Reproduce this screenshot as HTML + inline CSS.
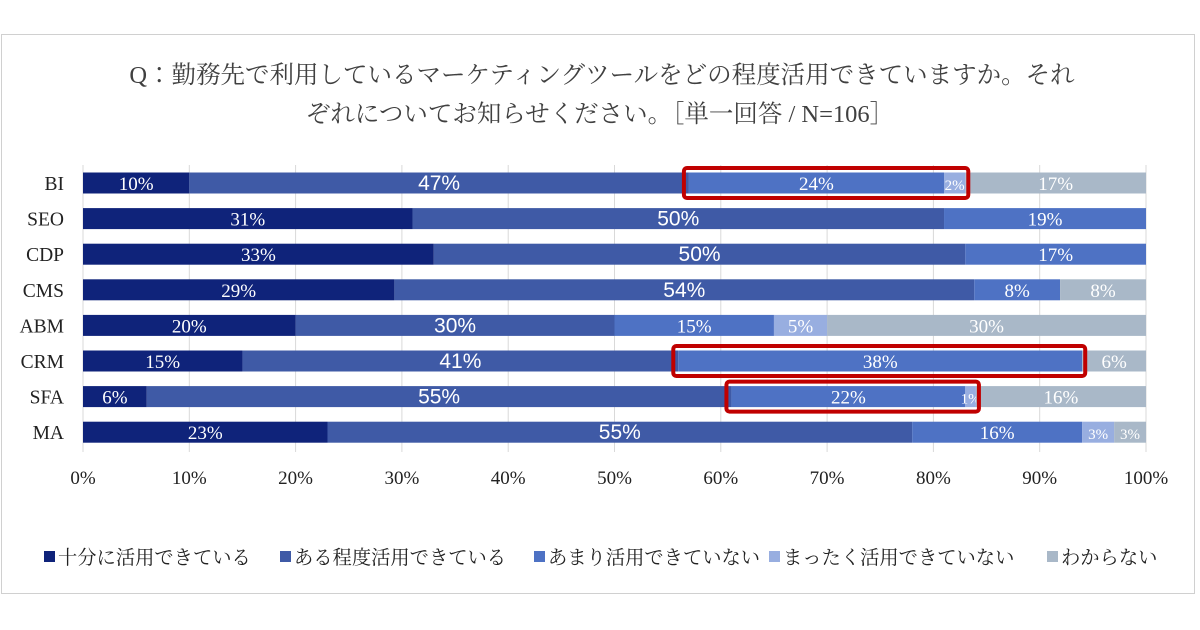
<!DOCTYPE html>
<html><head><meta charset="utf-8"><style>
body{margin:0;background:#fff;width:1200px;height:630px;overflow:hidden;font-family:"Liberation Serif","Noto Serif CJK JP",serif}
#frame{position:absolute;left:1px;top:34px;width:1194px;height:560px;border:1px solid #d0d0d0;box-sizing:border-box}
</style></head><body>
<div id="frame"></div>
<svg id="chart" width="1200" height="630" style="position:absolute;left:0;top:0"></svg>
<script>
const categories=["BI","SEO","CDP","CMS","ABM","CRM","SFA","MA"];
const seriesNames=["十分に活用できている","ある程度活用できている","あまり活用できていない","まったく活用できていない","わからない"];
const s1=[10,31,33,29,20,15,6,23];
const s2=[47,50,50,54,30,41,55,55];
const s3=[24,19,17,8,15,38,22,16];
const s4=[2,0,0,0,5,0,1,3];
const s5=[17,0,0,8,30,6,16,3];
const ticks=[0,10,20,30,40,50,60,70,80,90,100];
const highlights=[{row:0,from:2,to:3},{row:5,from:2,to:2},{row:6,from:2,to:3}];
const colors=["#0f237a","#3f5aa6","#4e72c4","#98aee0","#a9b8c8"];
const NS="http://www.w3.org/2000/svg";
const svg=document.getElementById("chart");
const X0=83,X1=1146,Y0=183,DY=35.6,BH=21;
const xs=v=>X0+(X1-X0)*v/100;
const yc=i=>Y0+DY*i;
function el(t,a,p){const e=document.createElementNS(NS,t);for(const k in a)e.setAttribute(k,a[k]);(p||svg).appendChild(e);return e;}
const t1=el("text",{x:602,y:83,"text-anchor":"middle","font-size":24.5,fill:"#404040"});t1.textContent="Q：勤務先で利用しているマーケティングツールをどの程度活用できていますか。それ";


const t2=el("text",{x:600,y:122,"text-anchor":"middle","font-size":24.5,fill:"#404040"});t2.textContent="ぞれについてお知らせください。［単一回答 / N=106］";


ticks.forEach(t=>{
 const l=el("line",{x1:xs(t),x2:xs(t),y1:165,y2:452,stroke:"#d9d9d9","stroke-width":1});
 
 
 const tx=el("text",{x:xs(t),y:484,"text-anchor":"middle","font-size":19,fill:"#222"});tx.textContent=t+"%";
 
 
});
const all=[s1,s2,s3,s4,s5];
const bounds=[];
categories.forEach((c,i)=>{
 const lab=el("text",{x:64,y:yc(i)+7,"text-anchor":"end","font-size":19.5,fill:"#222"});lab.textContent=c;
 
 
 const tot=all.reduce((a,s)=>a+s[i],0);
 let acc=0;bounds[i]=[];
 all.forEach((s,k)=>{
  const v=s[i];const a=acc/tot*100,b=(acc+v)/tot*100;bounds[i][k]=[a,b];acc+=v;
  if(v<=0)return;
  const r=el("rect",{x:xs(a),y:yc(i)-BH/2,width:xs(b)-xs(a),height:BH,fill:colors[k]});
  
  
  const big=k===1;
  const tx=el("text",{x:(xs(a)+xs(b))/2,y:yc(i)+7,"text-anchor":"middle","font-size":big?21:19,fill:"#fff","font-family":big?"Liberation Sans,sans-serif":"Liberation Serif,serif"});
  tx.textContent=v+"%";
  if(v<=3){tx.setAttribute("font-size",15);}
  
  
 });
});
highlights.forEach(h=>{
 const a=bounds[h.row][h.from][0],b=bounds[h.row][h.to][1];
 const r=el("rect",{x:xs(a)-5,y:yc(h.row)-15,width:xs(b)-xs(a)+8,height:30,rx:3,fill:"none",stroke:"#c00000","stroke-width":4});
 
 
});
const lx=[52,288,542,777,1055];
seriesNames.forEach((n,k)=>{
 const sq=el("rect",{x:lx[k]-8,y:551,width:11,height:11,fill:colors[k]});
 
 
 const tx=el("text",{x:lx[k]+6,y:564,"font-size":19.3,fill:"#222"});tx.textContent=n;
 
 
});
</script>
</body></html>
